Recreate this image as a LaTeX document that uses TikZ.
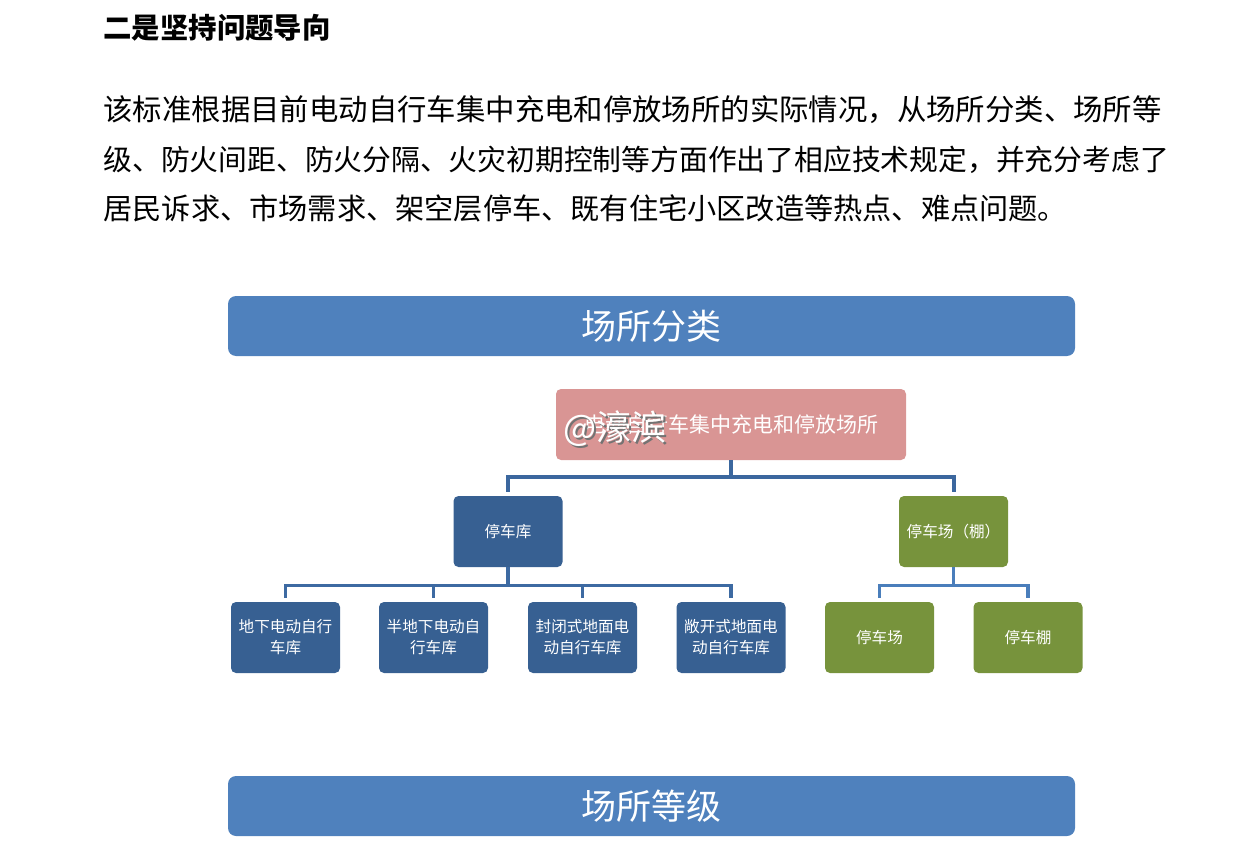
\documentclass[tikz,border=0pt]{standalone}
\usepackage{fontspec}
\setmainfont{Noto Sans CJK SC}
\usepackage{tikz}
\usetikzlibrary{positioning}
\usepackage{xcolor}
\definecolor{barblue}{HTML}{4F81BD}
\definecolor{rootpink}{HTML}{D99594}
\definecolor{darkblue}{HTML}{376092}
\definecolor{olive}{HTML}{77933C}
\definecolor{linkblue}{HTML}{4A7EBB}
\definecolor{linkdark}{HTML}{3B679E}

\begin{document}
\begin{tikzpicture}[x=0.5pt,y=-0.5pt,
  bar/.style={fill=barblue,rounded corners=4pt,minimum width=423.5pt,minimum height=30pt,text=white,font=\fontsize{17.5}{20}\selectfont},
  box/.style={rounded corners=2.5pt,minimum width=54.5pt,minimum height=35.5pt,text=white,align=center,inner sep=1pt,font=\fontsize{7.8}{10.5}\selectfont},
  gar/.style={box,fill=darkblue},
  shed/.style={box,fill=olive},
  link/.style={draw=linkblue,line width=1.6pt,shorten >=2pt},
  para/.style={anchor=west,inner sep=0pt,font=\fontsize{14.6}{18}\selectfont}]
\useasboundingbox (0,0) rectangle (1233,856);
% text above the chart
\node[para,font=\fontsize{14.2}{18}\selectfont\bfseries] (head) at (103,28) {二是坚持问题导向};
\node[para,font=\fontsize{14.7}{18}\selectfont] (line1) at (103,110) {该标准根据目前电动自行车集中充电和停放场所的实际情况，从场所分类、场所等};
\node[para,font=\fontsize{14.4}{18}\selectfont] (line2) at (103,160) {级、防火间距、防火分隔、火灾初期控制等方面作出了相应技术规定，并充分考虑了};
\node[para] (line3) at (103,208) {居民诉求、市场需求、架空层停车、既有住宅小区改造等热点、难点问题。};
% chart
\node[bar] (kind) at (651.5,326) {场所分类};
\node[box,fill=rootpink,minimum width=175pt,font=\fontsize{10.5}{12}\selectfont] (root) at (731,424.5) {电动自行车集中充电和停放场所};
\node[gar] (garage) at (508,531.5) {停车库};
\node[shed] (lot) at (953.5,531.5) {停车场（棚）};
\node[gar] (g1) at (285.5,637.5) {地下电动自行\\车库};
\node[gar] (g2) at (433.5,637.5) {半地下电动自\\行车库};
\node[gar] (g3) at (582.5,637.5) {封闭式地面电\\动自行车库};
\node[gar] (g4) at (731,637.5) {敞开式地面电\\动自行车库};
\node[shed] (s1) at (879.5,637.5) {停车场};
\node[shed] (s2) at (1028,637.5) {停车棚};
\node[bar] (grade) at (651.5,806) {场所等级};
% links
\foreach \c in {garage,lot}
  \draw[link,draw=linkdark,line width=2pt] (root.south) -- ++(0,17) -| (\c.north);
\foreach \c in {g1,g2,g3,g4}
  \draw[link,draw=linkdark!85!linkblue] (garage.south) -- ++(0,18) -| (\c.north);
\foreach \c in {s1,s2}
  \draw[link] (lot.south) -- ++(0,18) -| (\c.north);
% watermark
\node[text=black!55,font=\fontsize{17.5}{20}\selectfont] (markshadow) at (617,431) {@濠滨};
\node[text=white,font=\fontsize{17.5}{20}\selectfont] (mark) at (615,429) {@濠滨};
\end{tikzpicture}
\end{document}
